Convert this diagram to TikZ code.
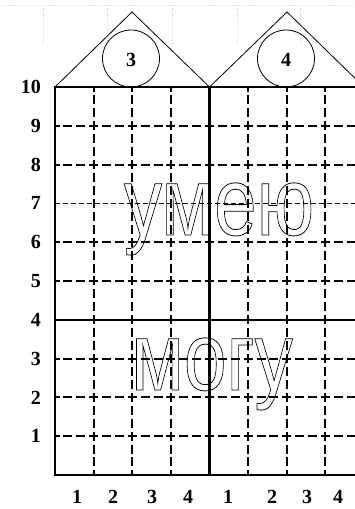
\documentclass[tikz,border=0pt]{standalone}
\usepackage{fontspec}
\setmainfont{Liberation Serif}
\newfontfamily\wordfont{Liberation Sans}
\newcommand\hollowtext[1]{\special{pdf:code 1 Tr 0.8 w}#1\special{pdf:code 0 Tr}}

\begin{document}
\begin{tikzpicture}[x=1pt,y=-1pt,line join=miter]
\useasboundingbox (0,0) rectangle (355,509);
\fill[white] (0,0) rectangle (355,509);
\clip (0,0) rectangle (355,509);
\tikzset{frame/.style={draw=black,line width=2.2pt},
  colline/.style={draw=black,line width=2.1pt,dash pattern=on 9pt off 3.93pt,dash phase=4.5pt},
  rowline/.style={draw=black,line width=2.1pt,dash pattern=on 9pt off 3.875pt,dash phase=4.5pt},
  midline/.style={draw=black,line width=0.8pt,dash pattern=on 5pt off 3pt},
  roof/.style={draw=black,line width=0.8pt},
  numlabel/.style={inner sep=0pt,font=\bfseries\fontsize{20}{20}\selectfont},
  bigword/.style={anchor=base,inner sep=0pt,font=\wordfont\fontsize{97}{97}\selectfont},
  papergrid/.style={draw=black!18,line width=0.5pt,dotted}}
% faint paper grid behind
\draw[papergrid] (0,5) -- (355,5);
\foreach \x in {43,107,172,237,300} \draw[papergrid] (\x,5) -- (\x,45);
% cells
\foreach \k in {1,2,3,5,6,7} \draw[colline] ({55+38.625*\k},87) -- ({55+38.625*\k},475);
\foreach \j in {1,2,4,5,7,8,9} \draw[rowline] (55,{87+38.8*\j}) -- (364,{87+38.8*\j});
\draw[midline] (55,203.4) -- (364,203.4);
% outer frame and halves
\draw[frame] (55,87) rectangle (364,475);
\draw[frame] (209.5,87) -- (209.5,475);
\draw[frame] (55,319.8) -- (364,319.8);
% roofs
\draw[roof] (55,87) -- (132,12) -- (209.5,87) -- (287,12) -- (364,87);
\draw[roof] (131,58.5) circle[radius=28.5];
\draw[roof] (286,58.5) circle[radius=28.5];
\node[numlabel] (house3) at (131,60) {3};
\node[numlabel] (house4) at (286,60) {4};
% scale on the left
\foreach \n [count=\j from 0] in {10,9,...,1}
  \node[numlabel,anchor=east] (row\n) at (41,{87+38.8*\j}) {\n};
% scale at the bottom
\foreach \x/\n [count=\i] in {77/1,113/2,152/3,188/4,228/1,272/2,307/3,338/4}
  \node[numlabel] (col\i) at (\x,497) {\n};
% words
\node[bigword] (upper) at (219,235) {\scalebox{0.79}[1]{\hollowtext{умею}}};
\node[bigword] (lower) at (212,390) {\scalebox{0.79}[1]{\hollowtext{могу}}};
\end{tikzpicture}
\end{document}
